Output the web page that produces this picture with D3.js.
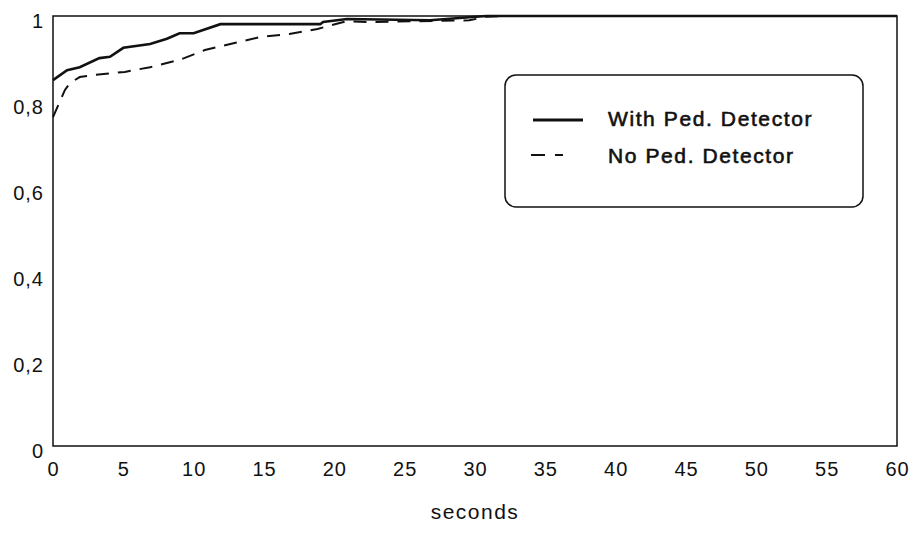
<!DOCTYPE html>
<html>
<head>
<meta charset="utf-8">
<script src="https://cdn.jsdelivr.net/npm/d3@7"></script>
<style>
  body { margin: 0; background: #fff; }
  text { font-family: "Liberation Sans", Arial, sans-serif; fill: #111; }
</style>
</head>
<body>
<div id="chart"></div>
<script>
// cumulative share vs. seconds
const withSec = [0, 1.0, 1.9, 3.3, 4.05, 5.0, 6.9, 8.1, 9.0, 10.0, 11.9, 19.0, 19.2, 20.9, 26.8, 29.6, 30.8, 60];
const withVal = [0.851, 0.874, 0.881, 0.902, 0.905, 0.926, 0.935, 0.947, 0.960, 0.960, 0.981, 0.981, 0.986, 0.993, 0.990, 0.997, 1.0, 1.0];

const noSec = [0, 0.85, 1.2, 1.9, 3.0, 5.1, 6.9, 9.0, 10.8, 12.9, 14.7, 16.8, 18.8, 20.9, 22.5, 26, 29.6, 30.8, 32, 60];
const noVal = [0.765, 0.828, 0.844, 0.858, 0.863, 0.870, 0.881, 0.898, 0.921, 0.937, 0.951, 0.958, 0.970, 0.988, 0.986, 0.988, 0.990, 0.998, 1.0, 1.0];

const xTicks = [0, 5, 10, 15, 20, 25, 30, 35, 40, 45, 50, 55, 60];
const yTicks = [0, 0.2, 0.4, 0.6, 0.8, 1];
const legendLabels = ["With Ped. Detector", "No Ped. Detector"];

const W = 916, H = 535;
const margin = {left: 53, right: 19, top: 16, bottom: 89};

const svg = d3.select("#chart").append("svg")
    .attr("width", W).attr("height", H);

const x = d3.scaleLinear().domain([0, 60]).range([margin.left, W - margin.right]);
const y = d3.scaleLinear().domain([0, 1]).range([H - margin.bottom, margin.top]);

// frame
svg.append("rect")
    .attr("x", x(0)).attr("y", y(1))
    .attr("width", x(60) - x(0)).attr("height", y(0) - y(1))
    .attr("fill", "none").attr("stroke", "#111").attr("stroke-width", 1.5);

const xAxis = svg.append("g")
    .attr("transform", `translate(0,${y(0)})`)
    .call(d3.axisBottom(x).tickValues(xTicks).tickSize(0).tickPadding(14));
xAxis.select(".domain").remove();
xAxis.selectAll("text")
    .style("font-size", "20px").style("letter-spacing", "1px")
    .attr("dy", "0.8em");

const yAxis = svg.append("g")
    .attr("transform", `translate(${x(0)},0)`)
    .call(d3.axisLeft(y).tickValues(yTicks).tickSize(0).tickPadding(9)
        .tickFormat(d => d === 0 || d === 1 ? String(d) : d3.format(".1f")(d).replace(".", ",")));
yAxis.select(".domain").remove();
yAxis.selectAll("text")
    .style("font-size", "20px").style("letter-spacing", "1px")
    .attr("dy", "0.55em");

svg.append("text")
    .attr("x", 475).attr("y", 519)
    .attr("text-anchor", "middle")
    .style("font-size", "21px")
    .style("letter-spacing", "1.5px")
    .text("seconds");

const line = d3.line().x(d => x(d[0])).y(d => y(d[1]));

svg.append("path")
    .datum(noSec.map((s, i) => [s, noVal[i]]))
    .attr("d", line)
    .attr("fill", "none").attr("stroke", "#111")
    .attr("stroke-width", 2).attr("stroke-dasharray", "13,9");

svg.append("path")
    .datum(withSec.map((s, i) => [s, withVal[i]]))
    .attr("d", line)
    .attr("fill", "none").attr("stroke", "#111")
    .attr("stroke-width", 2.6);

// legend
const lg = svg.append("g");
lg.append("rect")
    .attr("x", 505).attr("y", 75).attr("width", 358).attr("height", 132)
    .attr("rx", 11).attr("ry", 11)
    .attr("fill", "#fff").attr("stroke", "#111").attr("stroke-width", 1.5);

lg.append("line")
    .attr("x1", 533).attr("x2", 583).attr("y1", 120).attr("y2", 120)
    .attr("stroke", "#111").attr("stroke-width", 3);
lg.append("line")
    .attr("x1", 531).attr("x2", 563).attr("y1", 155).attr("y2", 155)
    .attr("stroke", "#111").attr("stroke-width", 2).attr("stroke-dasharray", "14,10");

lg.selectAll("text.leg")
    .data(legendLabels)
    .join("text")
    .attr("class", "leg")
    .attr("x", 608)
    .attr("y", (d, i) => 126 + i * 37)
    .style("font-size", "21px")
    .style("letter-spacing", "1.6px")
    .style("stroke", "#111").style("stroke-width", "0.6px")
    .text(d => d);
</script>
</body>
</html>
